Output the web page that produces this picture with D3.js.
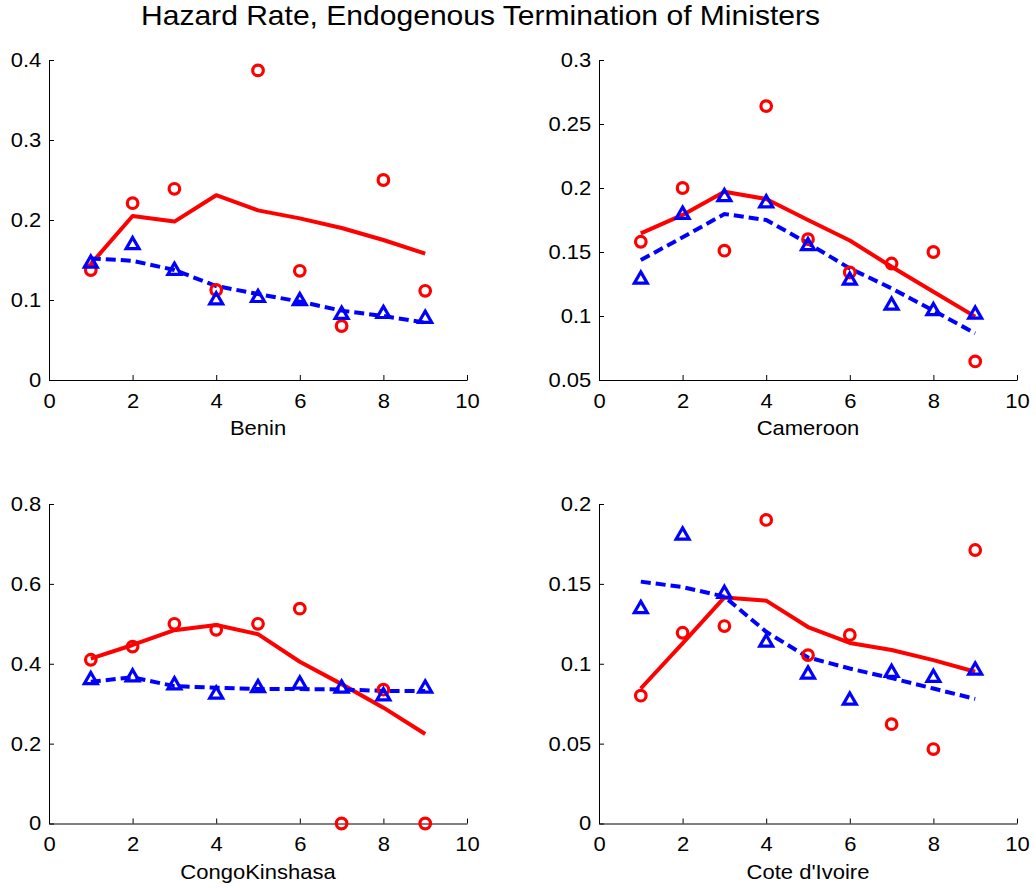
<!DOCTYPE html>
<html>
<head>
<meta charset="utf-8">
<script src="https://cdn.jsdelivr.net/npm/d3@7"></script>
<style>
  html, body { margin: 0; padding: 0; background: #fff; }
  svg { display: block; font-family: Arial, "Liberation Sans", sans-serif; }
</style>
</head>
<body>
<svg id="chart" width="1036" height="888"></svg>
<script>
// ---------------- data ----------------
const chartTitle = "Hazard Rate, Endogenous Termination of Ministers";
const countries = ["Benin", "Cameroon", "CongoKinshasa", "Cote d'Ivoire"];
const periods = [1, 2, 3, 4, 5, 6, 7, 8, 9];
const xTickValues = [0, 2, 4, 6, 8, 10];
const xDomain = [0, 10];

const yDomains = [[0, 0.4], [0.05, 0.3], [0, 0.8], [0, 0.2]];
const yTickValues = [
  [0, 0.1, 0.2, 0.3, 0.4],
  [0.05, 0.1, 0.15, 0.2, 0.25, 0.3],
  [0, 0.2, 0.4, 0.6, 0.8],
  [0, 0.05, 0.1, 0.15, 0.2]
];
const yTickLabels = [
  ["0", "0.1", "0.2", "0.3", "0.4"],
  ["0.05", "0.1", "0.15", "0.2", "0.25", "0.3"],
  ["0", "0.2", "0.4", "0.6", "0.8"],
  ["0", "0.05", "0.1", "0.15", "0.2"]
];

// red circles (observed) per country
const redObserved = [
  [0.1375, 0.221, 0.239, 0.1125, 0.387, 0.1365, 0.0675, 0.25, 0.1115],
  [0.158, 0.2, 0.151, 0.264, 0.16, 0.134, 0.141, 0.15, 0.0645],
  [0.41, 0.443, 0.5, 0.485, 0.5, 0.538, 0, 0.335, 0],
  [0.08, 0.1194, 0.1236, 0.19, 0.1054, 0.118, 0.0622, 0.0466, 0.1712]
];
// red solid line (fitted)
const redFitted = [
  [0.145, 0.205, 0.198, 0.231, 0.212, 0.202, 0.19, 0.175, 0.158],
  [0.1646, 0.179, 0.197, 0.1914, 0.175, 0.159, 0.1385, 0.119, 0.0995],
  [0.413, 0.447, 0.484, 0.497, 0.474, 0.405, 0.349, 0.29, 0.224],
  [0.0845, 0.1127, 0.1415, 0.1395, 0.123, 0.113, 0.1086, 0.1023, 0.095]
];
// blue triangles (observed)
const blueObserved = [
  [0.147, 0.17, 0.138, 0.101, 0.104, 0.1, 0.083, 0.084, 0.078],
  [0.1294, 0.18, 0.1938, 0.189, 0.1555, 0.1286, 0.109, 0.1047, 0.102],
  [0.362, 0.369, 0.349, 0.326, 0.342, 0.351, 0.341, 0.3215, 0.341],
  [0.135, 0.181, 0.1445, 0.114, 0.094, 0.0777, 0.095, 0.0919, 0.0965]
];
// blue dashed line (fitted)
const blueFitted = [
  [0.152, 0.149, 0.1375, 0.1175, 0.1075, 0.098, 0.0867, 0.08, 0.0717],
  [0.1437, 0.1615, 0.1797, 0.175, 0.1568, 0.1372, 0.1216, 0.1042, 0.0865],
  [0.355, 0.366, 0.344, 0.34, 0.3365, 0.3365, 0.3357, 0.332, 0.332],
  [0.1514, 0.148, 0.142, 0.12, 0.104, 0.097, 0.091, 0.0845, 0.078]
];

// ---------------- layout ----------------
const panels = [
  { left: 49, right: 467, top: 60, bottom: 380 },
  { left: 599, right: 1017, top: 60, bottom: 380 },
  { left: 49, right: 467, top: 504, bottom: 823.5 },
  { left: 599, right: 1017, top: 504, bottom: 823.5 }
];
const RED = "#ff0000", BLUE = "#0000ff";
const STRETCH = 1.1;

const svg = d3.select("#chart");

svg.append("text")
  .attr("x", 480.5).attr("y", 25)
  .attr("text-anchor", "middle")
  .attr("font-size", 28)
  .attr("textLength", 679)
  .attr("lengthAdjust", "spacingAndGlyphs")
  .attr("fill", "#000")
  .text(chartTitle);

const triangle = d3.symbol().type(d3.symbolTriangle).size(72);

countries.forEach((name, i) => {
  const p = panels[i];
  const x = d3.scaleLinear().domain(xDomain).range([p.left, p.right]);
  const y = d3.scaleLinear().domain(yDomains[i]).range([p.bottom, p.top]);
  const g = svg.append("g");

  // axes
  const xAxis = d3.axisBottom(x).tickValues(xTickValues).tickFormat(d3.format("d"))
    .tickSizeInner(-5).tickSizeOuter(0).tickPadding(13.5);
  const gx = g.append("g").attr("transform", `translate(0,${p.bottom})`).call(xAxis);
  const yAxis = d3.axisLeft(y).tickValues(yTickValues[i])
    .tickFormat((d, k) => yTickLabels[i][k])
    .tickSizeInner(-5).tickSizeOuter(0).tickPadding(7);
  const gy = g.append("g").attr("transform", `translate(${p.left},0)`).call(yAxis);

  [gx, gy].forEach(a => {
    a.attr("font-family", null).attr("font-size", null);
    a.select(".domain").attr("stroke", "#000").attr("stroke-width", 1);
    a.selectAll(".tick line").attr("stroke", "#000").attr("stroke-width", 1);
    a.selectAll(".tick text").attr("font-size", 20).attr("fill", "#000")
      .attr("transform", `scale(${STRETCH},1)`);
  });

  // x label
  g.append("text")
    .attr("transform", `translate(${(p.left + p.right) / 2},${p.bottom + 55}) scale(${STRETCH},1)`)
    .attr("text-anchor", "middle")
    .attr("font-size", 20)
    .attr("fill", "#000")
    .text(name);

  // lines
  const line = d3.line().x((d, k) => x(periods[k])).y(d => y(d));
  g.append("path").datum(redFitted[i])
    .attr("d", line).attr("fill", "none")
    .attr("stroke", RED).attr("stroke-width", 4).attr("stroke-linejoin", "round");
  g.append("path").datum(blueFitted[i])
    .attr("d", line).attr("fill", "none")
    .attr("stroke", BLUE).attr("stroke-width", 4).attr("stroke-dasharray", "10,5");

  // markers
  g.selectAll("circle.obs").data(redObserved[i]).join("circle")
    .attr("class", "obs")
    .attr("cx", (d, k) => x(periods[k])).attr("cy", d => y(d))
    .attr("r", 5.3).attr("fill", "none")
    .attr("stroke", RED).attr("stroke-width", 3.2);
  g.selectAll("path.tri").data(blueObserved[i]).join("path")
    .attr("class", "tri")
    .attr("d", triangle)
    .attr("transform", (d, k) => `translate(${x(periods[k])},${y(d) + 1})`)
    .attr("fill", "none")
    .attr("stroke", BLUE).attr("stroke-width", 3.2).attr("stroke-linejoin", "miter");
});
</script>
</body>
</html>
